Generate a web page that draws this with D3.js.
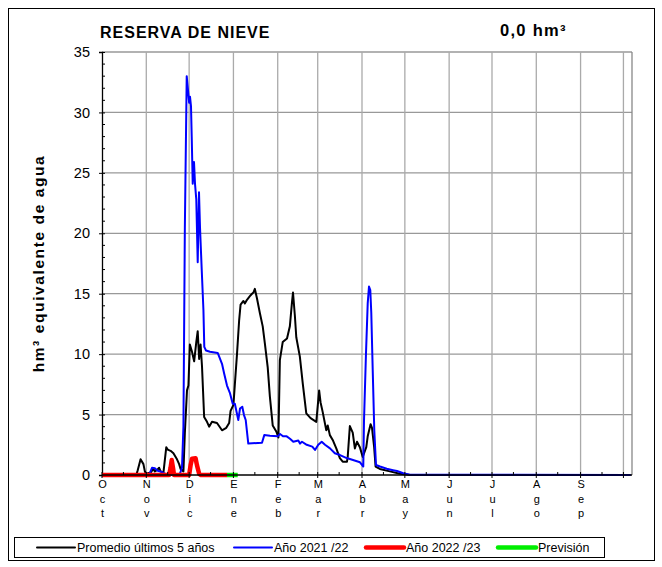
<!DOCTYPE html>
<html>
<head>
<meta charset="utf-8">
<style>
  body { margin: 0; background: #fff; }
  svg text { font-family: "Liberation Sans", Arial, sans-serif; }
</style>
</head>
<body>
<svg width="662" height="567"></svg>
<script src="https://d3js.org/d3.v7.min.js"></script>
<script>

// months of the hydrological year (Oct -> Sep), first day of each month
var meses = ["Oct", "Nov", "Dic", "Ene", "Feb", "Mar", "Abr", "May", "Jun", "Jul", "Ago", "Sep"];
var inicioMes = [0, 31, 61, 92, 123, 151, 182, 212, 243, 273, 304, 335];
var finAnio = 365;
var yTicks = [0, 5, 10, 15, 20, 25, 30, 35];

// [day since 1 Oct, hm3]
var promedio = [[0,0],[24,0],[25,0.4],[27,1.3],[29,0.9],[30,0.3],[31,0.1],[34,0.2],[36,0.5],[37,0.3],
  [38.5,0.4],[40,0.6],[41,0.3],[43,0.2],[45,2.3],[46,2.1],[48,2.0],[50,1.8],[52.5,1.3],[54,0.9],
  [55,0.5],[57,0.3],[58,3.5],[59.5,7.0],[60.5,7.4],[61.5,10.8],[63,10.2],[64.5,9.4],[66,11.0],[67,11.9],
  [68,9.6],[69,10.8],[70,9.0],[71.5,4.8],[73.5,4.4],[75,4.0],[77,4.4],[80.5,4.3],[84,3.7],[87,3.9],
  [89,4.3],[90,5.3],[92,5.8],[93,7.5],[94.5,10.0],[96,12.8],[97,14.1],[99,14.4],[100,14.2],[101.5,14.5],
  [103.5,14.8],[105,15.0],[106,15.1],[107,15.4],[108.5,14.6],[110.5,13.4],[112.5,12.3],[114,10.9],[116,8.9],
  [117.5,6.5],[119.5,4.1],[122,3.6],[123.5,3.1],[124.5,9.5],[126.5,11.0],[129.5,11.3],[131.5,12.3],[133,14.3],
  [133.7,15.1],[135,13.2],[136,11.4],[138.5,9.8],[140.5,7.6],[143,5.1],[146,4.7],[150,4.4],[152,7.0],
  [153,6.0],[154.5,5.2],[157,3.7],[158,4.1],[159.5,3.3],[161.5,2.9],[164,2.2],[166.5,1.4],[168.5,1.1],
  [171.5,1.1],[172,1.5],[173.5,4.05],[175.5,3.5],[177,2.2],[178.5,2.75],[180.5,2.3],[182.5,1.5],[185,2.3],
  [186,3.2],[188,4.2],[189,3.9],[190.5,2.3],[191.5,0.7],[194.5,0.5],[201.5,0.3],[208.5,0.1],[215.5,0],[370,0]];

var anio2122 = [[0,0],[32,0],[33.5,0.15],[35,0.6],[37,0.55],[39,0.35],[42,0.25],[44,0.1],[47.5,0],[53,0],
  [54.5,0.1],[56,0.6],[57,4.0],[58,20.5],[59.3,33.0],[60.4,31.6],[61,30.8],[61.6,31.3],[62.3,30.5],[62.8,28.0],
  [63.5,24.1],[64.4,25.9],[65.1,24.1],[66,22.8],[67,17.6],[67.9,23.4],[68.6,20.5],[69.8,17.0],[71,13.65],
  [71.6,10.6],[72.8,10.3],[75.6,10.2],[81,10.1],[84,9.2],[85.5,8.4],[87.5,7.4],[89.5,6.8],[91.5,5.9],
  [93,5.9],[95.4,4.55],[96.6,5.5],[98.2,5.65],[99.4,4.96],[100.6,4.55],[102.4,2.6],[112,2.67],[113.6,3.3],
  [117.6,3.25],[123,3.2],[124.6,3.4],[126.7,3.2],[129.3,3.2],[131.6,3.0],[133.9,2.75],[137.4,2.85],[138.6,2.6],
  [140,2.75],[143.3,2.5],[147.2,2.35],[149.1,2.07],[151.4,2.5],[153.8,2.75],[156.1,2.5],[159.6,2.2],[163,1.8],
  [166.6,1.65],[171.3,1.4],[175.7,1.24],[180.6,1.05],[182.9,0.7],[183.4,4.5],[184.8,10.1],[186,14.2],
  [186.9,15.6],[187.8,15.3],[188.5,13.4],[189.5,8.7],[190.6,3.7],[191.8,0.83],[194.6,0.7],[199.3,0.52],
  [203.7,0.4],[206.5,0.33],[210.9,0.14],[215.6,0.03],[370,0]];

var anio2223 = [[0,0],[47,0],[48,0.6],[48.8,1.24],[49.7,0.6],[50.4,0],[61,0],[62,0.8],[63,1.35],
  [65.5,1.38],[66.5,0.8],[68,0.1],[69.3,0],[87.5,0]];

var prevision = [[87.5,0],[95,0]];

var series = [
  {nombre: "Promedio últimos 5 años", datos: promedio, color: "#000000", ancho: 2},
  {nombre: "Año 2021 /22", datos: anio2122, color: "#0000ff", ancho: 2},
  {nombre: "Año 2022 /23", datos: anio2223, color: "#ff0000", ancho: 4.5},
  {nombre: "Previsión", datos: prevision, color: "#00ee00", ancho: 4.5}
];

var svg = d3.select("svg"),
    margin = {top: 52, left: 102, right: 30, bottom: 92},
    width = +svg.attr("width") - margin.left - margin.right,
    height = +svg.attr("height") - margin.top - margin.bottom;

// outer frame
svg.append("rect")
    .attr("x", 8.5).attr("y", 8.5)
    .attr("width", 646).attr("height", 552)
    .attr("fill", "none").attr("stroke", "#000").attr("stroke-width", 1);

var x = d3.scaleLinear().domain([0, 371]).range([0, width]);
var y = d3.scaleLinear().domain([0, 35]).range([height, 0]);

var g = svg.append("g").attr("transform", "translate(" + margin.left + "," + margin.top + ")");

// grid
g.selectAll(".hgrid").data(yTicks.slice(1))
  .enter().append("line")
    .attr("x1", 0).attr("x2", width)
    .attr("y1", function(d) { return y(d); }).attr("y2", function(d) { return y(d); })
    .attr("stroke", "#999").attr("stroke-width", 1.3);

g.selectAll(".vgrid").data(inicioMes.slice(1).concat([finAnio]))
  .enter().append("line")
    .attr("x1", function(d) { return x(d); }).attr("x2", function(d) { return x(d); })
    .attr("y1", 0).attr("y2", height)
    .attr("stroke", "#aaa").attr("stroke-width", 1.3);

// plot border right
g.append("line")
    .attr("x1", width).attr("x2", width).attr("y1", 0).attr("y2", height)
    .attr("stroke", "#888").attr("stroke-width", 1.3);

// y axis
var yAxis = g.append("g")
    .call(d3.axisLeft(y).tickValues(yTicks).tickSize(3).tickPadding(9));
yAxis.select(".domain").attr("stroke-width", 1.3);
yAxis.selectAll(".tick line").attr("x2", 3).attr("x1", -3);
yAxis.selectAll("text").attr("font-size", 14.5).attr("fill", "#000");

g.append("g").selectAll("line").data(d3.range(1, 35).filter(function(v) { return v % 5 != 0; }))
  .enter().append("line")
    .attr("x1", 0).attr("x2", 3)
    .attr("y1", function(d) { return y(d); }).attr("y2", function(d) { return y(d); })
    .attr("stroke", "#000");

// series
var linea = d3.line()
    .x(function(d) { return x(d[0]); })
    .y(function(d) { return y(d[1]); });

series.forEach(function(s) {
  g.append("path")
      .datum(s.datos)
      .attr("fill", "none")
      .attr("stroke", s.color)
      .attr("stroke-width", s.ancho)
      .attr("stroke-linejoin", "round")
      .attr("d", linea);
});

// x axis
g.append("line")
    .attr("x1", 0).attr("x2", width).attr("y1", height).attr("y2", height)
    .attr("stroke", "#000").attr("stroke-width", 1.3);

g.selectAll(".mtick").data(inicioMes.concat([finAnio]))
  .enter().append("line")
    .attr("x1", function(d) { return x(d); }).attr("x2", function(d) { return x(d); })
    .attr("y1", height - 3).attr("y2", height + 3)
    .attr("stroke", "#000");

g.selectAll(".htick").data(inicioMes)
  .enter().append("line")
    .attr("x1", function(d) { return x(d + 15); }).attr("x2", function(d) { return x(d + 15); })
    .attr("y1", height - 3).attr("y2", height)
    .attr("stroke", "#000");

var etiq = g.selectAll(".mes").data(meses)
  .enter().append("text")
    .attr("transform", function(d, i) { return "translate(" + (x(inicioMes[i]) + 0.5) + "," + (height + 13) + ")"; })
    .attr("text-anchor", "middle")
    .attr("font-size", 11);

etiq.selectAll("tspan").data(function(d) { return d.split(""); })
  .enter().append("tspan")
    .attr("x", 0)
    .attr("y", function(d, i) { return i * 14.5; })
    .text(function(d) { return d; });

// titles
svg.append("text")
    .attr("x", 100).attr("y", 38)
    .attr("font-size", 16).attr("font-weight", "bold")
    .attr("letter-spacing", 1)
    .text("RESERVA DE NIEVE");

svg.append("text")
    .attr("x", 500).attr("y", 36)
    .attr("font-size", 16.5).attr("font-weight", "bold")
    .attr("letter-spacing", 1.3)
    .text("0,0 hm³");

svg.append("text")
    .attr("transform", "translate(44," + (margin.top + height / 2) + ") rotate(-90)")
    .attr("text-anchor", "middle")
    .attr("font-size", 15.5).attr("font-weight", "bold")
    .attr("letter-spacing", 1.6)
    .text("hm³ equivalente de agua");

// legend
var leg = svg.append("g");
leg.append("rect")
    .attr("x", 14.5).attr("y", 537.5).attr("width", 590).attr("height", 20)
    .attr("fill", "#fff").attr("stroke", "#000");

var legX = [37, 234, 366, 498];
series.forEach(function(s, i) {
  leg.append("line")
      .attr("x1", legX[i]).attr("x2", legX[i] + 38)
      .attr("y1", 547.5).attr("y2", 547.5)
      .attr("stroke", s.color)
      .attr("stroke-width", s.ancho)
      .attr("stroke-linecap", "round");
  leg.append("text")
      .attr("x", legX[i] + 40).attr("y", 552)
      .attr("font-size", 12.5)
      .text(s.nombre);
});

</script>
</body>
</html>
